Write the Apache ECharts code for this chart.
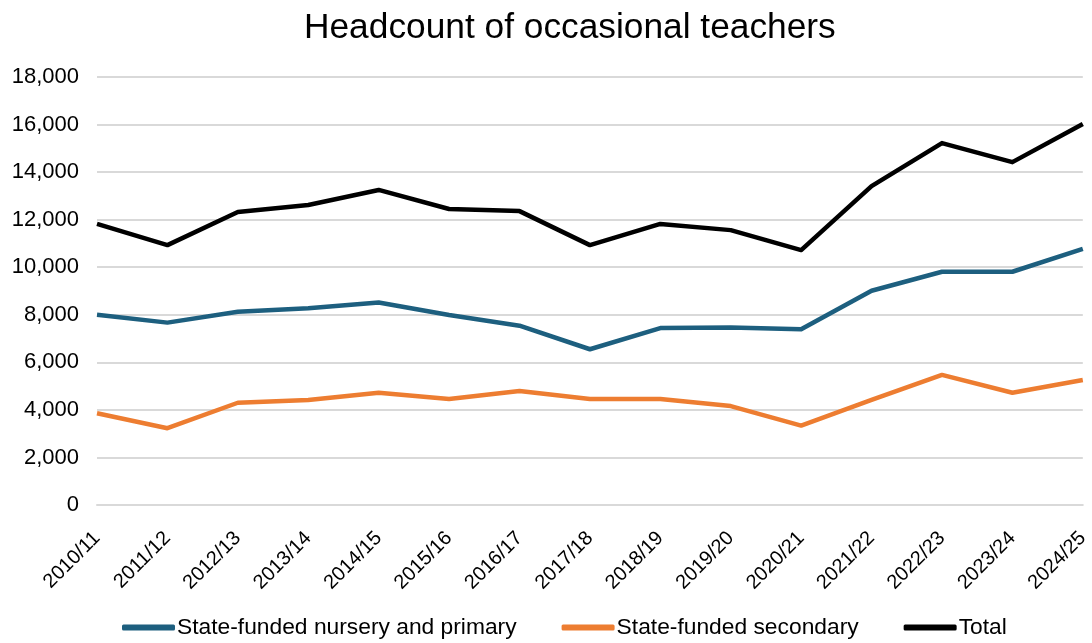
<!DOCTYPE html>
<html>
<head>
<meta charset="utf-8">
<script src="https://cdn.jsdelivr.net/npm/echarts@6/dist/echarts.min.js"></script>
<style>
  html, body { margin: 0; padding: 0; background: #ffffff; }
  #chart { width: 1092px; height: 643px; }
</style>
</head>
<body>
<div id="chart"></div>
<script>
// School years on the category axis
const years = ['2010/11', '2011/12', '2012/13', '2013/14', '2014/15', '2015/16', '2016/17', '2017/18',
  '2018/19', '2019/20', '2020/21', '2021/22', '2022/23', '2023/24', '2024/25'];

// Headcount of occasional teachers by phase
const nurseryPrimary = [8000, 7670, 8130, 8270, 8520, 7990, 7540, 6550, 7440, 7470, 7390, 9010, 9810, 9810, 10770];
const secondary = [3860, 3230, 4300, 4420, 4720, 4460, 4790, 4460, 4460, 4160, 3340, 4420, 5470, 4720, 5260];
const total = [11820, 10930, 12320, 12620, 13250, 12450, 12360, 10930, 11820, 11560, 10720, 13410, 15220, 14420, 16020];

// Value axis range
const yMin = 0, yMax = 18000, yStep = 2000;

const fontFamily = 'Liberation Sans, Arial, sans-serif';
const chart = echarts.init(document.getElementById('chart'));

const lineSeries = (name, data, color) => ({
  name, type: 'line', data,
  symbol: 'none',
  lineStyle: { color, width: 4.5, join: 'round' },
  itemStyle: { color },
  emphasis: { disabled: true }
});

chart.setOption({
  animation: false,
  textStyle: { fontFamily },
  title: {
    text: 'Headcount of occasional teachers',
    left: 299, top: 6,
    textStyle: { fontFamily, fontSize: 35.3, fontWeight: 'normal', color: '#000000' }
  },
  legend: {
    bottom: -1, left: 117,
    itemWidth: 53, itemHeight: 6, itemGap: 45,
    icon: 'roundRect',
    textStyle: { fontFamily, fontSize: 22.8, color: '#000000', padding: [0, 0, 0, -3] },
    data: ['State-funded nursery and primary', 'State-funded secondary', 'Total']
  },
  grid: { left: 97, right: 4, top: 77, bottom: 138, containLabel: false },
  xAxis: {
    type: 'category', data: years, boundaryGap: false,
    axisLine: { lineStyle: { color: '#d9d9d9', width: 2 } },
    axisTick: { show: false },
    axisLabel: { rotate: 45, interval: 0, margin: 30, fontSize: 20, color: '#000000', fontFamily }
  },
  yAxis: {
    type: 'value', min: yMin, max: yMax, interval: yStep,
    axisLine: { show: false }, axisTick: { show: false },
    splitLine: { lineStyle: { color: '#d9d9d9', width: 2 } },
    axisLabel: {
      margin: 18, fontSize: 22, color: '#000000', fontFamily,
      formatter: v => v.toLocaleString('en-GB')
    }
  },
  series: [
    lineSeries('State-funded nursery and primary', nurseryPrimary, '#1d5f7f'),
    lineSeries('State-funded secondary', secondary, '#ed7d31'),
    lineSeries('Total', total, '#000000')
  ]
});
</script>
</body>
</html>
